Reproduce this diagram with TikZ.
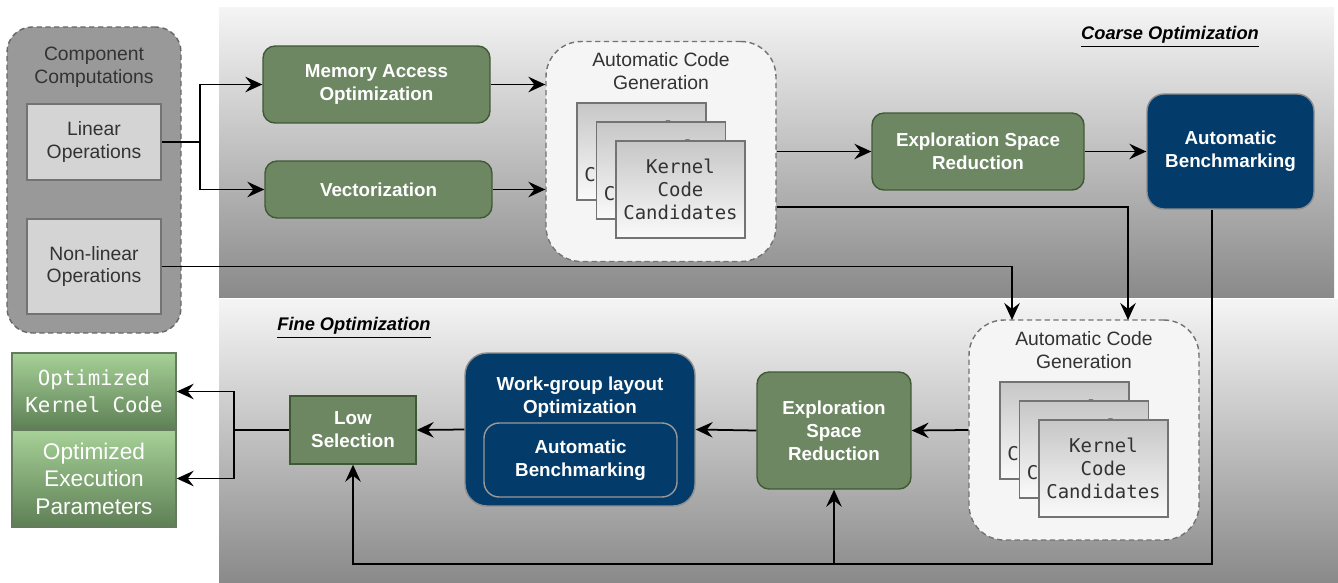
\documentclass[tikz,border=0pt]{standalone}
\usepackage{fontspec}
\setmainfont{Liberation Sans}
\setmonofont{DejaVu Sans Mono}
\usetikzlibrary{arrows.meta,positioning,calc}
\definecolor{cgreen}{RGB}{109,135,99}
\definecolor{cgreenline}{RGB}{62,90,52}
\definecolor{cblue}{RGB}{3,60,106}
\definecolor{couttop}{RGB}{166,209,151}
\definecolor{coutbot}{RGB}{94,127,85}
\definecolor{ctext}{RGB}{51,51,51}

\begin{document}
\begin{tikzpicture}[x=0.02cm, y=-0.02cm,
    arr/.style={-{Stealth[length=3.4mm,width=3.1mm,inset=1.2mm]}, line width=1pt},
    wire/.style={line width=1pt},
    boldtxt/.style={font=\bfseries\fontsize{10.7}{13}\selectfont, text=white, align=center},
    greenbox/.style={boldtxt, draw=cgreenline, fill=cgreen, line width=0.8pt, rounded corners=0.24cm, inner sep=0pt},
    bluebox/.style={boldtxt, draw=black!45, fill=cblue, line width=0.8pt, inner sep=0pt},
    opbox/.style={draw=black!55, fill=black!17, line width=0.8pt, text=ctext, align=center,
      font=\fontsize{11}{13}\selectfont, minimum width=2.68cm, inner sep=0pt},
    gentxt/.style={text=ctext, align=center, font=\fontsize{11}{13}\selectfont},
    acgbox/.style={draw=black!55, dash pattern=on 3pt off 2pt, fill=black!4, line width=0.8pt,
      rounded corners=0.7cm, minimum width=4.6cm, minimum height=4.4cm},
    card/.style={draw=black!55, top color=black!22, bottom color=black!2, line width=0.8pt,
      minimum width=2.58cm, minimum height=1.94cm, inner sep=0pt, text=ctext, align=center,
      font=\ttfamily\fontsize{10.8}{13}\selectfont},
    outbox/.style={draw=cgreenline!80, top color=couttop, bottom color=coutbot, line width=0.8pt,
      text=white, align=center, minimum width=3.28cm, inner sep=0pt},
    paneltitle/.style={font=\bfseries\itshape\fontsize{10.4}{12}\selectfont}]

  \path[use as bounding box, fill=white] (0,0) rectangle (1338,582);

  % panels
  \shade[top color=black!4, bottom color=black!46] (219,7) rectangle (1334,297);
  \shade[top color=black!4, bottom color=black!46] (219,299) rectangle (1338,582);
  \node[paneltitle] (coarse) at (1170,37) {\underline{Coarse Optimization}};
  \node[paneltitle] (fine) at (354,328) {\underline{Fine Optimization}};

  % component computations
  \node[draw=black!60, dash pattern=on 3pt off 2pt, fill=black!40, line width=0.8pt,
    rounded corners=0.5cm, minimum width=3.48cm, minimum height=6.12cm] (comp) at (94,180) {};
  \node[gentxt] (compt) at (94,67) {Component\\Computations};
  \node[opbox, minimum height=1.52cm] (lin) at (94,142) {Linear\\Operations};
  \node[opbox, minimum height=1.9cm] (nonlin) at (94,266.5) {Non-linear\\Operations};

  % coarse optimization
  \node[greenbox, minimum width=4.54cm, minimum height=1.54cm] (mem) at (376.5,84.5) {Memory Access\\Optimization};
  \node[greenbox, minimum width=4.54cm, minimum height=1.14cm] (vec) at (378.5,189.5) {Vectorization};
  \node[acgbox] (acg1) at (661,151.5) {};
  \node[gentxt] (acgt1) at (661,71) {Automatic Code\\Generation};
  \foreach \i in {0,1,2}
    \node[card] (ca\i) at (641.5+19.5*\i,151.5+19*\i) {Kernel\\Code\\Candidates};
  \node[greenbox, minimum width=4.24cm, minimum height=1.54cm] (esr1) at (978,151.5) {Exploration Space\\Reduction};
  \node[bluebox, rounded corners=0.34cm, minimum width=3.34cm, minimum height=2.3cm] (ab1) at (1230.5,151.5) {Automatic\\Benchmarking};

  % fine optimization
  \node[acgbox] (acg2) at (1084,430) {};
  \node[gentxt] (acgt2) at (1084,350) {Automatic Code\\Generation};
  \foreach \i in {0,1,2}
    \node[card] (cb\i) at (1064.5+19.5*\i,430.5+19*\i) {Kernel\\Code\\Candidates};
  \node[greenbox, minimum width=3.08cm, minimum height=2.34cm] (esr2) at (834,430.5) {Exploration\\Space\\Reduction};
  \node[bluebox, rounded corners=0.44cm, minimum width=4.6cm, minimum height=3.06cm] (wg) at (580,429.5) {};
  \node[boldtxt] (wgt) at (580,397) {Work-group layout\\Optimization};
  \node[bluebox, rounded corners=0.3cm, draw=black!40, minimum width=3.86cm, minimum height=1.48cm] (wgin) at (580.5,460) {Automatic\\Benchmarking};
  \node[greenbox, rounded corners=0pt, minimum width=2.52cm, minimum height=1.36cm] (low) at (353,430) {Low\\Selection};

  % outputs
  \node[outbox, minimum height=1.54cm, font=\ttfamily\fontsize{11.8}{15.3}\selectfont] (outk) at (94,391.5) {Optimized\\Kernel Code};
  \node[outbox, minimum height=1.94cm, font=\fontsize{12.9}{15.6}\selectfont] (outp) at (94,478.5) {Optimized\\Execution\\Parameters};

  % connections
  \coordinate (sp1) at (200,142);
  \draw[wire] (lin.east) -- (sp1);
  \draw[arr] (sp1) |- (mem.west);
  \draw[arr] (sp1) |- (vec.west);
  \draw[arr] (mem.east) -- (mem.east -| acg1.west);
  \draw[arr] (vec.east) -- (vec.east -| acg1.west);
  \draw[arr] (acg1.east) -- (esr1.west);
  \draw[arr] (esr1.east) -- (ab1.west);
  \coordinate (in2b) at (1128,320);
  \draw[arr] ($(acg1.east)+(0,55.5)$) -| (in2b);
  \coordinate (in2a) at (1012,320);
  \draw[arr] (nonlin.east) -| (in2a);
  \coordinate (fb) at (1212,564);
  \draw[arr] (ab1.south -| fb) -- (fb) -| (low.south);
  \draw[arr] (esr2.south |- fb) -- (esr2.south);
  \draw[arr] (acg2.west) -- (esr2.east);
  \draw[arr] (esr2.west) -- (wg.east);
  \draw[arr] (wg.west) -- (low.east);
  \coordinate (sp2) at (234,430);
  \draw[wire] (low.west) -- (sp2);
  \draw[arr] (sp2) |- (outk.east);
  \draw[arr] (sp2) |- (outp.east);
\end{tikzpicture}
\end{document}
